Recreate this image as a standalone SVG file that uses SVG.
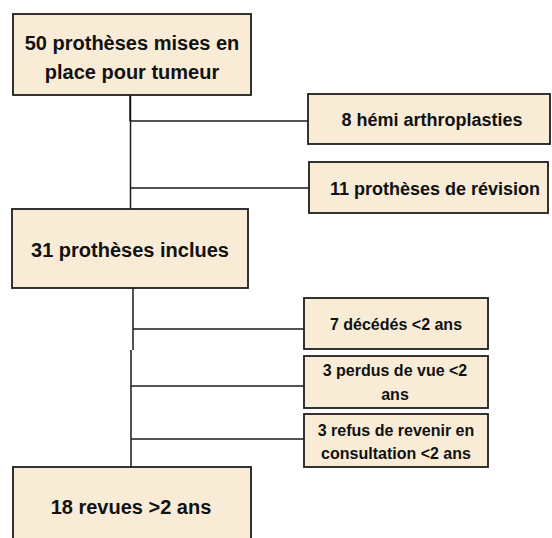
<svg xmlns="http://www.w3.org/2000/svg" width="552" height="538" viewBox="0 0 552 538">
<style>
.box{fill:#f8ecd7;stroke:#1e1e1e;stroke-width:1.8}
.t{font-family:"Liberation Sans",Arial,sans-serif;font-weight:bold;fill:#111;text-anchor:middle}
.c{stroke:#1a1a1a;stroke-width:1.5;fill:none}
</style>
<rect width="552" height="538" fill="#ffffff"/>
<g id="connectors">
<path class="c" d="M130.5 95 V209" />
<path class="c" d="M130 95 V121" stroke-width="3"/>
<path class="c" d="M131 121 H308"/>
<path class="c" d="M131 188 H309"/>
<path class="c" d="M133 288 V350"/>
<path class="c" d="M131 350 V467" stroke-width="2.2"/>
<path class="c" d="M133 329 H304"/>
<path class="c" d="M131 386 H304"/>
<path class="c" d="M131 439 H304"/>
</g>
<g id="n1">
<rect class="box" x="13" y="14" width="238" height="81"/>
<text class="t" x="132" y="50" font-size="20">50 prothèses mises en</text>
<text class="t" x="132" y="79" font-size="20">place pour tumeur</text>
</g>
<g id="n2">
<rect class="box" x="308" y="94" width="242" height="50"/>
<text class="t" x="432" y="126" font-size="18">8 hémi arthroplasties</text>
</g>
<g id="n3">
<rect class="box" x="309" y="162" width="239" height="51"/>
<text class="t" x="435" y="195" font-size="18">11 prothèses de révision</text>
</g>
<g id="n4">
<rect class="box" x="12" y="209" width="236" height="79"/>
<text class="t" x="130" y="257" font-size="20">31 prothèses inclues</text>
</g>
<g id="n5">
<rect class="box" x="304" y="298" width="184" height="51"/>
<text class="t" x="396" y="330" font-size="16">7 décédés &lt;2 ans</text>
</g>
<g id="n6">
<rect class="box" x="304" y="356" width="184" height="52"/>
<text class="t" x="395" y="376" font-size="16">3 perdus de vue &lt;2</text>
<text class="t" x="395" y="400" font-size="16">ans</text>
</g>
<g id="n7">
<rect class="box" x="304" y="414" width="184" height="53"/>
<text class="t" x="396" y="436" font-size="16">3 refus de revenir en</text>
<text class="t" x="396" y="459" font-size="16">consultation &lt;2 ans</text>
</g>
<g id="n8">
<rect class="box" x="13" y="467" width="238" height="80"/>
<text class="t" x="131" y="514" font-size="20">18 revues &gt;2 ans</text>
</g>
</svg>
